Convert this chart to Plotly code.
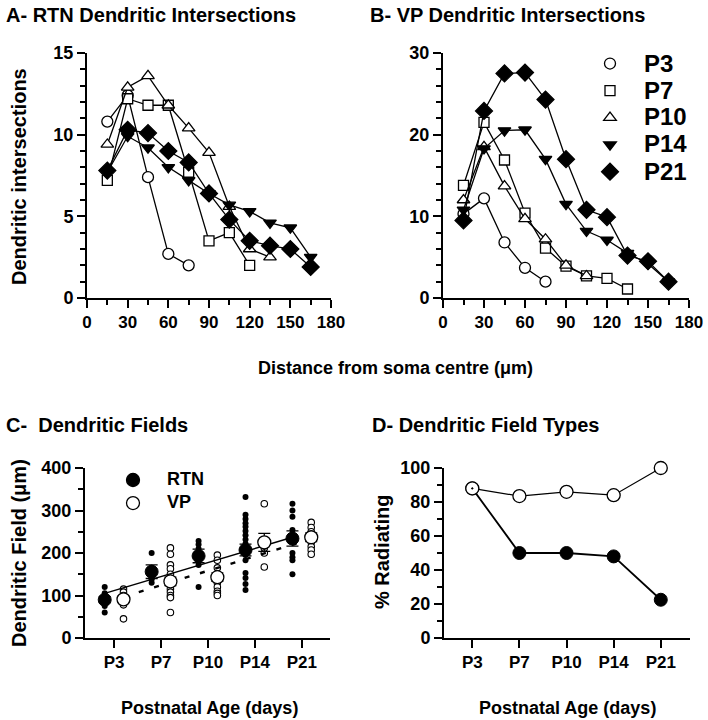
import plotly.graph_objects as go

# ---------------- data ----------------
distance = [15, 30, 45, 60, 75, 90, 105, 120, 135, 150, 165]
age_labels = ["P3", "P7", "P10", "P14", "P21"]
age_pos = [1, 2, 3, 4, 5]

# A - RTN dendritic intersections
rtn_p3 = [10.8, 12.4, 7.4, 2.7, 2.0]
rtn_p7 = [7.2, 12.2, 11.8, 11.8, 7.7, 3.5, 4.0, 2.0]
rtn_p10 = [9.4, 12.9, 13.6, 11.8, 10.4, 8.9, 5.6, 3.0, 2.5]
rtn_p14 = [7.7, 9.9, 9.2, 8.0, 7.2, 6.4, 5.7, 5.3, 4.6, 4.3, 2.5]
rtn_p21 = [7.8, 10.3, 10.1, 9.0, 8.3, 6.4, 4.8, 3.5, 3.2, 3.0, 1.9]

# B - VP dendritic intersections
vp_p3 = [10.3, 12.2, 6.8, 3.7, 2.0]
vp_p7 = [13.8, 21.5, 16.9, 10.4, 6.1, 3.9, 2.7, 2.4, 1.1]
vp_p10 = [12.0, 18.5, 13.7, 9.7, 7.2, 4.0, 2.7]
vp_p14 = [10.8, 18.3, 20.5, 20.6, 17.0, 11.5, 8.2, 7.1, 5.5, 4.2, 2.0]
vp_p21 = [9.5, 22.9, 27.5, 27.6, 24.3, 17.0, 10.8, 9.9, 5.2, 4.5, 2.0]

# C - dendritic fields (individual cells, um)
rtn_field_p3 = [120, 105, 98, 93, 88, 82, 75, 60]
rtn_field_p7 = [200, 165, 158, 152, 145, 138, 130]
rtn_field_p10 = [228, 220, 210, 200, 195, 188, 180, 172, 120]
rtn_field_p14 = [332, 290, 280, 270, 262, 252, 242, 232, 222, 214, 200, 195, 183, 153, 141, 127, 113]
rtn_field_p21 = [316, 300, 285, 254, 242, 238, 200, 190, 183, 150]
vp_field_p3 = [115, 108, 100, 95, 85, 78, 45]
vp_field_p7 = [212, 197, 172, 163, 150, 140, 125, 115, 108, 100, 95, 60]
vp_field_p10 = [195, 183, 165, 150, 130, 120, 110, 105, 100]
vp_field_p14 = [316, 212, 200, 167]
vp_field_p21 = [272, 260, 250, 225, 215, 207, 197]

rtn_field_mean = [90, 156, 193, 207, 234]
rtn_field_sem = [7, 16, 16, 14, 18]
vp_field_mean = [91, 133, 143, 225, 237]
vp_field_sem = [8, 10, 10, 21, 10]

rtn_fit = [105, 237]   # regression line values at P3 and P21
vp_fit = [97, 233]

# D - % radiating
rad_rtn = [88, 50, 50, 48, 22.5]
rad_vp = [88, 83.5, 86, 84, 100]

# legend labels
series_names = ["P3", "P7", "P10", "P14", "P21"]
group_names = ["RTN", "VP"]

# ---------------- figure ----------------
FONT = "Liberation Sans, Arial, sans-serif"
W, H = 708, 720
def px(x): return x / W
def py(y): return 1 - y / H

fig = go.Figure()

def line_trace(x, y, symbol, fill, size, xa, ya, lw=1.3):
    return go.Scatter(
        x=x, y=y, mode="lines+markers", showlegend=False, cliponaxis=False,
        line=dict(color="black", width=lw),
        marker=dict(symbol=symbol, size=size, color=fill,
                    line=dict(color="black", width=1.3)),
        xaxis=xa, yaxis=ya)

series_style = [
    ("circle", "white", 11),
    ("square", "white", 10),
    ("triangle-up", "white", 11),
    ("triangle-down", "black", 11),
    ("diamond", "black", 13),
]

rtn_series = [rtn_p3, rtn_p7, rtn_p10, rtn_p14, rtn_p21]
vp_series = [vp_p3, vp_p7, vp_p10, vp_p14, vp_p21]

for (sym, fill, size), ys in zip(series_style, rtn_series):
    fig.add_trace(line_trace(distance[:len(ys)], ys, sym, fill, size, "x", "y"))
for (sym, fill, size), ys in zip(series_style, vp_series):
    fig.add_trace(line_trace(distance[:len(ys)], ys, sym, fill, size, "x2", "y2"))

# legend symbols for panel B (labels drawn as annotations below)
for sym, fill, size in series_style:
    fig.add_trace(go.Scatter(
        x=[None], y=[None], mode="markers", name="", legend="legend",
        marker=dict(symbol=sym, size=size, color=fill, line=dict(color="black", width=1.3)),
        xaxis="x2", yaxis="y2"))

# panel C individual points
rtn_fields = [rtn_field_p3, rtn_field_p7, rtn_field_p10, rtn_field_p14, rtn_field_p21]
vp_fields = [vp_field_p3, vp_field_p7, vp_field_p10, vp_field_p14, vp_field_p21]
off = 0.2
rx, ry, vx, vy = [], [], [], []
for p, vals in zip(age_pos, rtn_fields):
    rx += [p - off] * len(vals); ry += vals
for p, vals in zip(age_pos, vp_fields):
    vx += [p + off] * len(vals); vy += vals

fig.add_trace(go.Scatter(x=rx, y=ry, mode="markers", showlegend=False, cliponaxis=False,
                         marker=dict(size=6, color="black", line=dict(width=0)),
                         xaxis="x3", yaxis="y3"))
fig.add_trace(go.Scatter(x=vx, y=vy, mode="markers", showlegend=False, cliponaxis=False,
                         marker=dict(size=6.5, color="white", line=dict(color="black", width=1.1)),
                         xaxis="x3", yaxis="y3"))
# regression lines
fig.add_trace(go.Scatter(x=[age_pos[0] - off, age_pos[-1] - off], y=rtn_fit, mode="lines",
                         showlegend=False, line=dict(color="black", width=1.5),
                         xaxis="x3", yaxis="y3"))
fig.add_trace(go.Scatter(x=[age_pos[0] + off, age_pos[-1] + off], y=vp_fit, mode="lines",
                         showlegend=False, line=dict(color="black", width=2.4, dash="5px,11px"),
                         xaxis="x3", yaxis="y3"))
# means
fig.add_trace(go.Scatter(x=[p - off for p in age_pos], y=rtn_field_mean, mode="markers",
                         showlegend=False, cliponaxis=False,
                         error_y=dict(type="data", array=rtn_field_sem, color="black", thickness=1.3, width=6),
                         marker=dict(size=13, color="black", line=dict(color="black", width=1)),
                         xaxis="x3", yaxis="y3"))
fig.add_trace(go.Scatter(x=[p + off for p in age_pos], y=vp_field_mean, mode="markers",
                         showlegend=False, cliponaxis=False,
                         error_y=dict(type="data", array=vp_field_sem, color="black", thickness=1.3, width=6),
                         marker=dict(size=13, color="white", line=dict(color="black", width=1.3)),
                         xaxis="x3", yaxis="y3"))
# legend symbols for panel C
for fill in ["black", "white"]:
    fig.add_trace(go.Scatter(x=[None], y=[None], mode="markers", name="", legend="legend2",
                             marker=dict(size=13, color=fill, line=dict(color="black", width=1.3)),
                             xaxis="x3", yaxis="y3"))

# panel D
fig.add_trace(go.Scatter(x=age_pos, y=rad_rtn, mode="lines+markers", showlegend=False, cliponaxis=False,
                         line=dict(color="black", width=1.8),
                         marker=dict(size=13, color="black", line=dict(color="black", width=1)),
                         xaxis="x4", yaxis="y4"))
fig.add_trace(go.Scatter(x=age_pos, y=rad_vp, mode="lines+markers", showlegend=False, cliponaxis=False,
                         line=dict(color="black", width=1.2),
                         marker=dict(size=13, color="white",
                                     symbol=["circle-dot", "circle", "circle", "circle", "circle"],
                                     line=dict(color="black", width=1.3)),
                         xaxis="x4", yaxis="y4"))

axis_common = dict(showline=True, linecolor="black", linewidth=2, ticks="outside",
                   ticklen=8, tickwidth=1.5, tickcolor="black", showgrid=False,
                   zeroline=False, mirror=False, automargin=False)
tickfont_y = dict(family=FONT, size=18, color="black", weight="bold")
tickfont_x = dict(family=FONT, size=17, color="black", weight="bold")
minor = dict(ticks="outside", ticklen=5, tickwidth=1.5, tickcolor="black", showgrid=False)

fig.update_layout(
    width=W, height=H, margin=dict(l=0, r=0, t=0, b=0, autoexpand=False),
    paper_bgcolor="white", plot_bgcolor="white",
    font=dict(family=FONT, color="black", weight="bold"),
    xaxis=dict(domain=[px(87), px(331)], range=[0, 180], dtick=30, tick0=0,
               minor=dict(dtick=15, **minor), tickfont=tickfont_x, anchor="y", **axis_common),
    yaxis=dict(domain=[py(298), py(53)], range=[0, 15], dtick=5, tick0=0,
               minor=dict(dtick=1, **minor), tickfont=tickfont_y, anchor="x", **axis_common),
    xaxis2=dict(domain=[px(443), px(689)], range=[0, 180], dtick=30, tick0=0,
                minor=dict(dtick=15, **minor), tickfont=tickfont_x, anchor="y2", **axis_common),
    yaxis2=dict(domain=[py(298), py(53)], range=[0, 30], dtick=10, tick0=0,
                minor=dict(dtick=2, **minor), tickfont=tickfont_y, anchor="x2", **axis_common),
    xaxis3=dict(domain=[px(85), px(330)], range=[0.38, 5.6], tickvals=age_pos, ticktext=age_labels,
                tickfont=tickfont_x, anchor="y3", **axis_common),
    yaxis3=dict(domain=[py(638), py(468)], range=[0, 400], dtick=100, tick0=0,
                minor=dict(dtick=50, **minor), tickfont=tickfont_y, anchor="x3", **axis_common),
    xaxis4=dict(domain=[px(444), px(690)], range=[0.4, 5.62], tickvals=age_pos, ticktext=age_labels,
                tickfont=tickfont_x, anchor="y4", **axis_common),
    yaxis4=dict(domain=[py(638), py(468)], range=[0, 100], dtick=20, tick0=0,
                minor=dict(dtick=10, **minor), tickfont=tickfont_y, anchor="x4", **axis_common),
    legend=dict(x=px(590), y=py(45), xanchor="left", yanchor="top", bgcolor="rgba(0,0,0,0)",
                font=dict(family=FONT, size=18.5, color="black"),
                tracegroupgap=0, itemsizing="trace"),
    legend2=dict(x=px(113), y=py(463.5), xanchor="left", yanchor="top", bgcolor="rgba(0,0,0,0)",
                 font=dict(family=FONT, size=15.4, color="black"),
                 tracegroupgap=0, itemsizing="trace"),
)

def ann(text, x, y, size=20, xanchor="left", angle=0):
    fig.add_annotation(text=text, x=px(x), y=py(y), xref="paper", yref="paper",
                       showarrow=False, xanchor=xanchor, yanchor="middle", textangle=angle,
                       font=dict(family=FONT, size=size, color="black", weight="bold"))

ann("A- RTN Dendritic Intersections", 4, 15)
ann("B- VP Dendritic Intersections", 368, 15)
ann("C-\u00a0 Dendritic Fields", 4, 425)
ann("D- Dendritic Field Types", 370, 425)
ann("Dendritic intersections", 19, 177, xanchor="center", angle=-90)
ann("Distance from soma centre (\u03bcm)", 395, 368, size=18, xanchor="center")
ann("Dendritic Field (\u03bcm)", 19, 553, xanchor="center", angle=-90)
ann("% Radiating", 382, 552, xanchor="center", angle=-90)
ann("Postnatal Age (days)", 209, 708, size=18, xanchor="center")
ann("Postnatal Age (days)", 567, 708, size=18, xanchor="center")

# legend labels
for k, name in enumerate(series_names):
    ann(name, 642, 63 + 27 * k, size=24)
for k, name in enumerate(group_names):
    ann(name, 165, 479 + 23 * k, size=18)

fig.write_html("out.html", config={"displayModeBar": False},
               post_script="document.body.style.margin='0';document.body.style.padding='0';")
